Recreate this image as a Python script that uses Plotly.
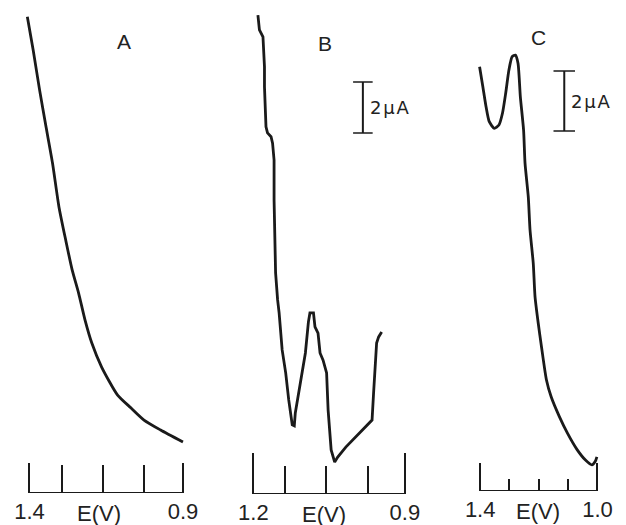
import plotly.graph_objects as go

# ---------------- data (E in V, current in µA above baseline) ----------------
E_A = [1.407, 1.388, 1.367, 1.346, 1.325, 1.304, 1.282, 1.261, 1.240, 1.219,
       1.197, 1.165, 1.113, 1.069, 1.027, 0.973, 0.900]
I_A = [18.68, 17.37, 15.80, 14.35, 12.94, 11.22, 9.92, 8.75, 7.84, 6.78,
       5.88, 4.94, 3.84, 3.33, 2.86, 2.47, 2.00]

E_B = [1.191, 1.188, 1.181, 1.178, 1.178, 1.175, 1.172, 1.165, 1.162, 1.159,
       1.159, 1.156, 1.152, 1.149, 1.143, 1.136, 1.130, 1.127, 1.123, 1.119,
       1.117, 1.107, 1.097, 1.091, 1.088, 1.081, 1.078, 1.072, 1.068, 1.062,
       1.055, 1.052, 1.046, 1.039, 1.033, 1.017, 0.997, 0.978, 0.965, 0.962,
       0.959, 0.956, 0.952, 0.946]
I_B = [18.78, 18.20, 17.93, 16.76, 15.97, 14.40, 14.16, 14.01, 13.76, 13.10,
       11.53, 8.67, 7.61, 7.10, 5.65, 4.75, 3.69, 3.18, 2.71, 2.67,
       3.18, 4.35, 5.53, 6.75, 7.10, 7.10, 6.55, 6.31, 5.53, 5.25,
       4.75, 3.29, 1.73, 1.25, 1.45, 1.84, 2.24, 2.63, 2.90, 3.96,
       4.98, 5.92, 6.16, 6.35]

E_C = [1.402, 1.391, 1.380, 1.369, 1.352, 1.336, 1.324, 1.313, 1.302, 1.291,
       1.280, 1.271, 1.263, 1.252, 1.247, 1.236, 1.230, 1.219, 1.213, 1.202,
       1.191, 1.174, 1.158, 1.130, 1.102, 1.069, 1.041, 1.019, 1.008, 1.002]
I_C = [14.14, 13.48, 12.81, 12.31, 12.09, 12.20, 12.59, 13.26, 14.03, 14.48,
       14.53, 14.26, 13.14, 12.03, 10.92, 9.81, 8.70, 7.59, 6.48, 5.59,
       4.81, 3.70, 3.14, 2.48, 1.92, 1.37, 1.03, 0.87, 0.98, 1.14]

panel_labels = ["A", "B", "C"]
axis_ends = [(1.4, 0.9), (1.2, 0.9), (1.4, 1.0)]
axis_end_text = [("1.4", "0.9"), ("1.2", "0.9"), ("1.4", "1.0")]
inner_ticks = [[1.295, 1.161, 1.027], [1.138, 1.057, 0.974], [1.303, 1.2, 1.1]]
axis_title = "E(V)"
scale_text = "2\u200aµ\u200aA"
scale_uA = 2.0
scale_bar_pos = [None, (0.9832, 14.16), (1.1133, 12.0)]  # (E, lower current)

# ---------------- layout geometry (pixels) ----------------
W, H = 626, 525
INK = "#1a1a1a"
FONT = "Liberation Sans, Arial, sans-serif"
px_ticks = [(23, 180), (252, 407), (484, 604)]
px_base = [493, 494, 491]
px_per_uA = [25.5, 25.5, 30.0]
major_len = [30, 41, 28]
minor_len = [28, 28, 12]
cap_px = [0, 10, 11]
title_shift = [-7, -5, -1]
PAD = 8

fig = go.Figure()
series = [(E_A, I_A, "spline"), (E_B, I_B, "linear"), (E_C, I_C, "spline")]

shapes = []
annotations = []
for i in range(3):
    ax = "" if i == 0 else str(i + 1)
    e0, e1 = axis_ends[i]
    p0, p1 = px_ticks[i]
    vpp = (e1 - e0) / (p1 - p0)
    left, right = p0 - PAD, p1 + PAD
    xr = [e0 + (left - p0) * vpp, e0 + (right - p0) * vpp]
    base = px_base[i]
    yr = [0, base / px_per_uA[i]]

    E, I, shp = series[i]
    fig.add_trace(go.Scatter(x=E, y=I, mode="lines", xaxis="x" + ax, yaxis="y" + ax,
                             line=dict(color=INK, width=2.8, shape=shp, smoothing=0.6),
                             showlegend=False, hoverinfo="skip"))

    fig.layout["xaxis" + ax] = dict(
        domain=[left / W, right / W], range=xr, anchor="y" + ax,
        showline=False, showgrid=False, zeroline=False,
        tickmode="array", tickvals=[e0, e1], ticktext=list(axis_end_text[i]),
        ticks="inside", ticklen=major_len[i], tickwidth=2, tickcolor=INK,
        ticklabelstandoff=3,
        tickfont=dict(family=FONT, size=22, color="#222"),
        minor=dict(tickmode="array", tickvals=inner_ticks[i], ticks="inside",
                   ticklen=minor_len[i], tickwidth=2, tickcolor=INK, showgrid=False),
        fixedrange=True,
    )
    fig.layout["yaxis" + ax] = dict(
        domain=[1 - base / H, 1], range=yr, anchor="x" + ax, visible=False,
        showgrid=False, zeroline=False, fixedrange=True,
    )
    # baseline of the scale
    shapes.append(dict(type="line", xref="x" + ax, yref="y" + ax, x0=e0, x1=e1, y0=0, y1=0,
                       line=dict(color=INK, width=2)))
    # scale bar
    if scale_bar_pos[i] is not None:
        xe, yl = scale_bar_pos[i]
        cap = cap_px[i] * abs(vpp)
        yh = yl + scale_uA
        shapes.append(dict(type="line", xref="x" + ax, yref="y" + ax, x0=xe, x1=xe, y0=yl, y1=yh,
                           line=dict(color=INK, width=2)))
        for yy in (yl, yh):
            shapes.append(dict(type="line", xref="x" + ax, yref="y" + ax, x0=xe - cap, x1=xe + cap,
                               y0=yy, y1=yy, line=dict(color=INK, width=1.5)))
        annotations.append(dict(xref="x" + ax, yref="y" + ax, x=xe,
                                y=yl + scale_uA / 2, text=scale_text, showarrow=False,
                                xanchor="left", yanchor="middle", xshift=5,
                                font=dict(family="DejaVu Sans, sans-serif", size=18, color="#222")))
    # E(V) label
    annotations.append(dict(xref="x" + ax, yref="paper", x=(e0 + e1) / 2, xshift=title_shift[i],
                            y=1 - (base + 20) / H, text=axis_title, showarrow=False,
                            xanchor="center", yanchor="middle",
                            font=dict(family=FONT, size=22, color="#222")))

# panel letters
letter_px = [(120, 41), (325, 43), (544, 37)]
for lab, (lx, ly) in zip(panel_labels, letter_px):
    annotations.append(dict(xref="paper", yref="paper", x=lx / W, y=1 - ly / H, text=lab,
                            showarrow=False, xanchor="center", yanchor="middle",
                            font=dict(family=FONT, size=21, color="#222")))

fig.update_layout(width=W, height=H, margin=dict(l=0, r=0, t=0, b=0),
                  paper_bgcolor="white", plot_bgcolor="white",
                  shapes=shapes, annotations=annotations)
fig.write_html("out.html", config={"displayModeBar": False},
               post_script="document.body.style.margin='0';document.body.style.overflow='hidden';")
